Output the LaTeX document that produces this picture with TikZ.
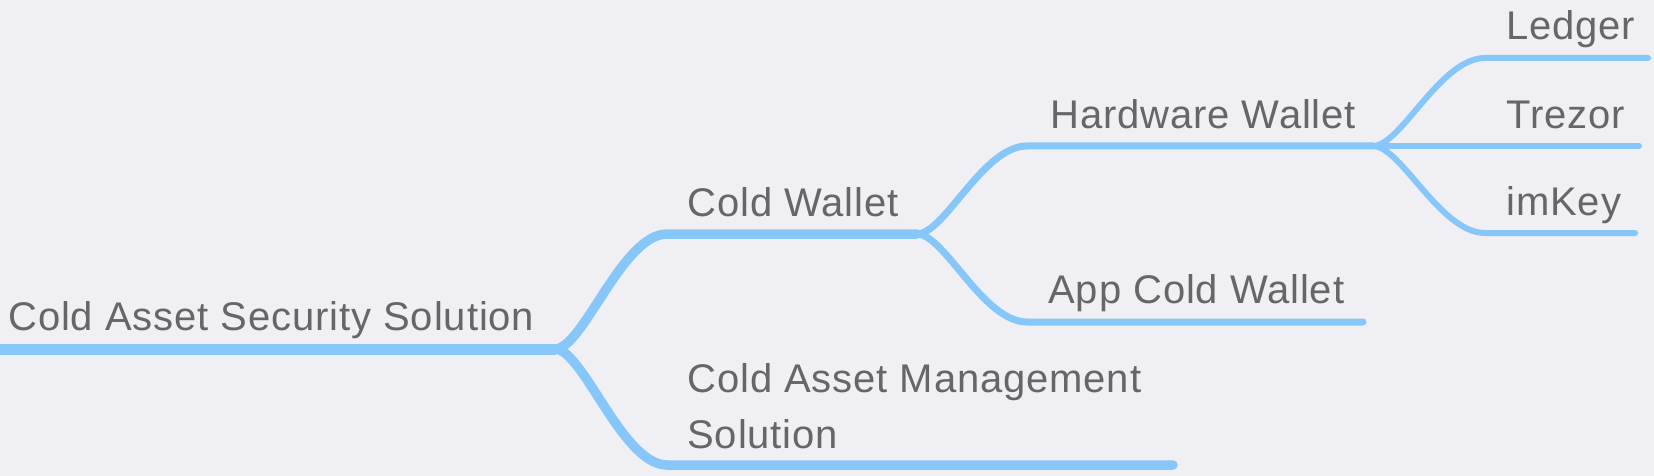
\documentclass[tikz,border=0pt]{standalone}
\usepackage{fontspec}
\setmainfont[LetterSpace=2.2]{Liberation Sans}
\usetikzlibrary{calc}
\definecolor{mapBack}{RGB}{239,239,244}
\definecolor{mapLine}{RGB}{135,198,248}
\definecolor{mapText}{RGB}{102,102,102}

\begin{document}
\begin{tikzpicture}[x=0.5pt, y=-0.5pt,
topic/.style={anchor=base west, inner sep=0pt, text=mapText,
font=\fontsize{20}{28}\selectfont, align=left},
rootline/.style={draw=mapLine, line width=5.5pt, line cap=round},
mainline/.style={draw=mapLine, line width=4.75pt, line cap=round},
subline/.style={draw=mapLine, line width=3.5pt, line cap=round},
leafline/.style={draw=mapLine, line width=3pt, line cap=round},
branch/.style={to path={.. controls ($(\tikztostart)!0.25!(\tikztostart -| \tikztotarget)$)
and ($(\tikztotarget)!0.4!(\tikztotarget -| \tikztostart)$) .. (\tikztotarget)}}]

\fill[mapBack] (0,0) rectangle (1654,476);
\useasboundingbox (0,0) rectangle (1654,476);

% topics
\node[topic] (root) at (8,330) {Cold Asset Security Solution};
\node[topic] (coldWallet) at (687,216) {Cold Wallet};
\node[topic] (coldMgmt) at (687,448) {Cold Asset Management\\Solution};
\node[topic] (hwWallet) at (1050,128) {Hardware Wallet};
\node[topic] (appWallet) at (1048,303) {App Cold Wallet};
\node[topic] (ledger) at (1506,40) {Ledger};
\node[topic] (trezor) at (1506,128) {Trezor};
\node[topic] (imkey) at (1506,215) {imKey};

% underline ends
\coordinate (root-l) at (0,349);      \coordinate (root-r) at (555,349);
\coordinate (coldWallet-l) at (667,234); \coordinate (coldWallet-r) at (917,234);
\coordinate (coldMgmt-l) at (667,465);   \coordinate (coldMgmt-r) at (1173,465);
\coordinate (hwWallet-l) at (1027,146);  \coordinate (hwWallet-r) at (1373,146);
\coordinate (appWallet-l) at (1027,322); \coordinate (appWallet-r) at (1363,322);
\coordinate (ledger-l) at (1485,58);     \coordinate (ledger-r) at (1648,58);
\coordinate (trezor-l) at (1485,146);    \coordinate (trezor-r) at (1639,146);
\coordinate (imkey-l) at (1485,233);     \coordinate (imkey-r) at (1635,233);

\draw[rootline] (root-l) -- (root-r);
\draw[mainline] (root-r) to[branch] (coldWallet-l) -- (coldWallet-r);
\draw[mainline] (root-r) to[branch] (coldMgmt-l) -- (coldMgmt-r);
\draw[subline] (coldWallet-r) to[branch] (hwWallet-l) -- (hwWallet-r);
\draw[subline] (coldWallet-r) to[branch] (appWallet-l) -- (appWallet-r);
\draw[leafline] (hwWallet-r) to[branch] (ledger-l) -- (ledger-r);
\draw[leafline] (hwWallet-r) to[branch] (trezor-l) -- (trezor-r);
\draw[leafline] (hwWallet-r) to[branch] (imkey-l) -- (imkey-r);
\end{tikzpicture}
\end{document}
